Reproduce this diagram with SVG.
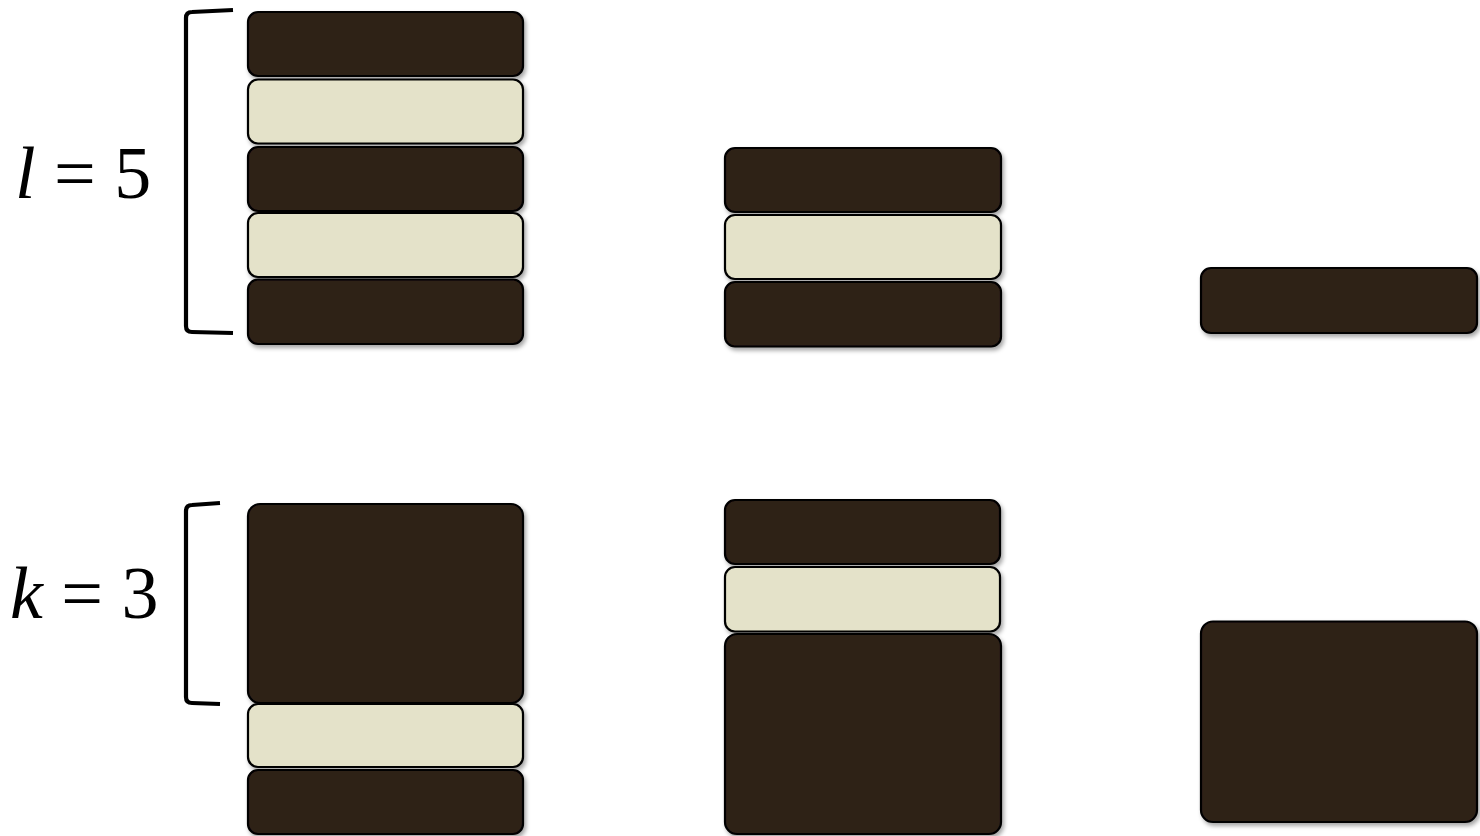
<svg xmlns="http://www.w3.org/2000/svg" width="1480" height="836" viewBox="0 0 1480 836">
<style>
.d{fill:#2f2019;stroke:#000;stroke-width:2.2}
.l{fill:#e4e2c9;stroke:#000;stroke-width:2.2}
.br{fill:none;stroke:#000;stroke-width:4.2;stroke-linecap:butt;stroke-linejoin:round}
.lab{font-family:'Liberation Serif','Times New Roman',Times,serif;font-size:74px;fill:#000}
.it{font-style:italic}
</style>
<defs>
<filter id="sh" x="-10%" y="-10%" width="125%" height="130%">
<feDropShadow dx="2" dy="3" stdDeviation="2" flood-color="#000" flood-opacity="0.35"/>
</filter>
</defs>
<rect width="1480" height="836" fill="#fff"/>
<g id="label-l"><text class="lab" font-family="Liberation Serif" x="15" y="198"><tspan class="it">l</tspan> = 5</text></g>
<g id="label-k"><text class="lab" font-family="Liberation Serif" x="10" y="618"><tspan class="it">k</tspan> = 3</text></g>
<g id="connectors">
<path class="br" d="M233,10 L192,12 Q186,12 186,18 L186,326 Q186,332 192,332 L233,333"/>
<path class="br" d="M220,503 L192,505 Q186,505 186,511 L186,697 Q186,703 192,703 L220,704"/>
</g>
<g filter="url(#sh)">
<g id="a1"><rect class="d" x="248" y="12" width="275" height="64" rx="10"/></g>
<g id="a2"><rect class="l" x="248" y="79.5" width="275" height="64" rx="10"/></g>
<g id="a3"><rect class="d" x="248" y="147" width="275" height="64" rx="10"/></g>
<g id="a4"><rect class="l" x="248" y="213" width="275" height="64" rx="10"/></g>
<g id="a5"><rect class="d" x="248" y="279.5" width="275" height="64.5" rx="10"/></g>
<g id="b1"><rect class="d" x="725" y="148" width="276" height="64" rx="10"/></g>
<g id="b2"><rect class="l" x="725" y="215" width="276" height="64" rx="10"/></g>
<g id="b3"><rect class="d" x="725" y="282" width="276" height="64.5" rx="10"/></g>
<g id="c1"><rect class="d" x="1201" y="268" width="276" height="65" rx="10"/></g>
<g id="d1"><rect class="d" x="248" y="504" width="275" height="199" rx="12"/></g>
<g id="d2"><rect class="l" x="248" y="704" width="275" height="63" rx="10"/></g>
<g id="d3"><rect class="d" x="248" y="770" width="275" height="64" rx="10"/></g>
<g id="e1"><rect class="d" x="725" y="500" width="275" height="64" rx="10"/></g>
<g id="e2"><rect class="l" x="725" y="567" width="275" height="64.5" rx="10"/></g>
<g id="e3"><rect class="d" x="725" y="634" width="276" height="200" rx="12"/></g>
<g id="f1"><rect class="d" x="1201" y="621.5" width="276" height="200.5" rx="12"/></g>
</g>
</svg>
